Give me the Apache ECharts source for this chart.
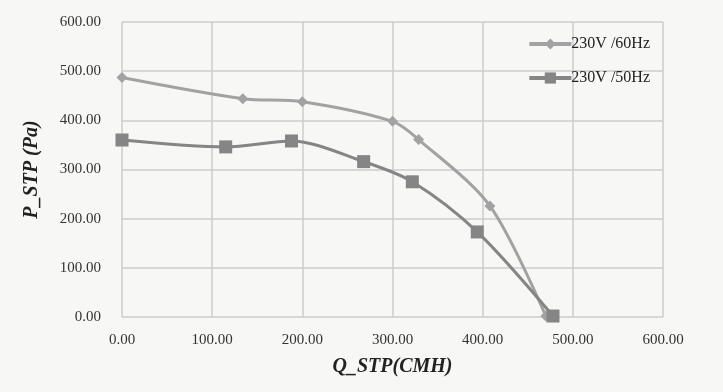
<!DOCTYPE html>
<html><head><meta charset="utf-8">
<script src="https://cdn.jsdelivr.net/npm/echarts@6/dist/echarts.min.js"></script>
<style>html,body{margin:0;padding:0;background:#f7f7f6;}#c{width:723px;height:392px;}</style>
</head><body><div id="c"></div>
<script>
const series60Name = '230V /60Hz';
const series50Name = '230V /50Hz';
const q60 = [0, 134, 200, 300, 329, 408, 470];
const p60 = [487, 444, 438, 398, 361, 226, 2];
const q50 = [0, 115, 188, 268, 322, 394, 478];
const p50 = [360, 346, 358, 316, 275, 173, 2];
const xTicks = [0, 100, 200, 300, 400, 500, 600];
const yTicks = [0, 100, 200, 300, 400, 500, 600];

const chart = echarts.init(document.getElementById('c'));
const serif = '"Liberation Serif", "DejaVu Serif", serif';
chart.setOption({
  backgroundColor: '#f7f7f6',
  animation: false,
  grid: {left: 122, right: 60, top: 22, bottom: 75},
  legend: {
    right: 68, top: 31, orient: 'vertical', itemGap: 18,
    itemWidth: 42, itemHeight: 14,
    lineStyle: {width: 4},
    textStyle: {fontFamily: serif, fontSize: 16, color: '#222', padding: [0, 0, 0, -5]},
    data: [series60Name, series50Name]
  },
  xAxis: {
    type: 'value', min: xTicks[0], max: xTicks[xTicks.length-1], interval: 100,
    name: 'Q_STP(CMH)', nameLocation: 'middle', nameGap: 40,
    nameTextStyle: {fontFamily: serif, fontSize: 20, fontWeight: 'bold', fontStyle: 'italic', color: '#222'},
    axisLine: {show: false}, axisTick: {show: false},
    axisLabel: {fontFamily: serif, fontSize: 15, color: '#333', margin: 16, formatter: v => v.toFixed(2)},
    splitLine: {show: true, lineStyle: {color: '#cdcdcd', width: 1.5}}
  },
  yAxis: {
    type: 'value', min: yTicks[0], max: yTicks[yTicks.length-1], interval: 100,
    name: 'P_STP (Pa)', nameLocation: 'middle', nameGap: 80,
    nameTextStyle: {fontFamily: serif, fontSize: 20, fontWeight: 'bold', fontStyle: 'italic', color: '#222'},
    axisLine: {show: false}, axisTick: {show: false},
    axisLabel: {fontFamily: serif, fontSize: 15, color: '#333', margin: 21, formatter: v => v.toFixed(2)},
    splitLine: {show: true, lineStyle: {color: '#cdcdcd', width: 1.5}}
  },
  series: [
    {
      name: series60Name, type: 'line', smooth: 0.3,
      data: q60.map((q, i) => [q, p60[i]]),
      symbol: 'diamond', symbolSize: 11,
      lineStyle: {color: '#a2a2a2', width: 3},
      itemStyle: {color: '#a2a2a2'}
    },
    {
      name: series50Name, type: 'line', smooth: 0.3,
      data: q50.map((q, i) => [q, p50[i]]),
      symbol: 'rect', symbolSize: 13,
      lineStyle: {color: '#858585', width: 3},
      itemStyle: {color: '#858585'}
    }
  ]
});
</script></body></html>
